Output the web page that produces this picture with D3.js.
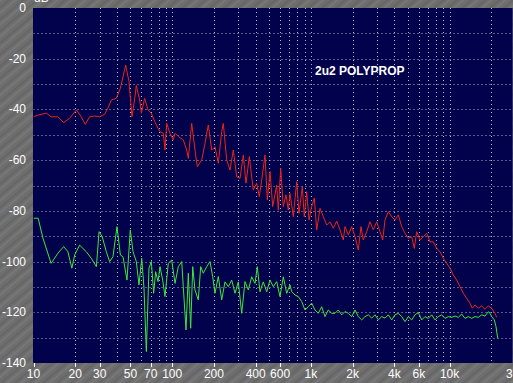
<!DOCTYPE html>
<html>
<head>
<meta charset="utf-8">
<script src="https://cdn.jsdelivr.net/npm/d3@7"></script>
<style>
  body { margin: 0; background: #6e6e6e; }
  svg { display: block; }
  text { font-family: "Liberation Sans", Arial, sans-serif; }
</style>
</head>
<body>
<svg width="513" height="383"></svg>
<script>
// frequency ticks shown under the plot
var tickFreqs = [10, 20, 30, 50, 70, 100, 200, 400, 600, 1000, 2000, 4000, 6000, 10000, 30000];
var tickLabels = ["10", "20", "30", "50", "70", "100", "200", "400", "600", "1k", "2k", "4k", "6k", "10k", "30k"];
var dbTicks = [0, -20, -40, -60, -80, -100, -120, -140];

// red trace (frequency Hz / level dB)
var redFreq = [10, 10.8, 12.4, 13.4, 15, 16.5, 18.2, 20.4, 22.1, 23.6, 25.4, 27.6, 30, 32.6, 34.4, 36.4, 39.5, 42.3, 46.2, 48.8,
  51.3, 53.7, 55.1, 58.3, 59.9, 63.3, 66.9, 70.7, 74.8, 79, 81.7, 86.3, 88.7, 91.3, 96.4, 101.8, 104.8, 110.7, 120.2, 127.2,
  130.7, 138.2, 146, 151.7, 163.2, 172.4, 182.1, 192.7, 203.5, 215, 227.5, 233.6, 247.1, 261.1, 275.8, 291.7, 308.2, 325.6, 340.5, 359.7,
  384.3, 406.6, 424.6, 441.9, 466.8, 485, 507.2, 530.4, 566.8, 582.1, 605.8, 632.4, 661.4, 687.2, 706.8, 746.7, 790, 820.8, 867, 896.3,
  932.7, 969, 1013, 1058, 1101, 1163, 1229, 1300, 1373, 1450, 1535, 1621, 1713, 1762, 1861, 1969, 2080, 2197, 2297, 2387,
  2526, 2668, 2818, 2981, 3149, 3293, 3421, 3614, 3824, 4040, 4268, 4515, 4770, 5039, 5331, 5567, 5792, 6118, 6463, 6838,
  7224, 7631, 8072, 8528, 9009, 9531, 10070, 10640, 11250, 11890, 12560, 13290, 14030, 14580, 15250, 16110, 17030, 17990, 19010, 20110,
  21250, 21860];
var redDb = [-42.9, -42.2, -41.5, -42.9, -42.9, -45.2, -43.5, -40.2, -42.9, -45.9, -42.9, -42.6, -42.9, -41.9, -39.5, -36.3, -35.6, -31.7, -22.5, -29,
  -42.9, -35.6, -30.6, -36.3, -41.5, -35.6, -40.2, -41.5, -44.8, -47.4, -48.8, -49.4, -56, -45.5, -49.4, -52, -49.4, -50.7, -52, -56,
  -59.3, -45.5, -56, -62.6, -59.9, -53.4, -46.1, -56, -54.7, -61.2, -48.8, -45.5, -59.9, -63.9, -56, -66.5, -67.2, -58, -69.1, -58.6,
  -71.8, -69.1, -74.4, -67.8, -58, -75.7, -64.5, -78.3, -69.8, -79.7, -63.2, -78.3, -73.7, -79.7, -73.1, -82.3, -68.5, -81, -70.5, -82.3,
  -72.4, -83.6, -78.3, -75, -87.5, -79, -82.3, -85.6, -84.3, -86.9, -84, -87.5, -91.5, -86.2, -89.5, -86.2, -90.2, -95.4, -86.2, -91.5,
  -88.2, -84.3, -87.5, -84.3, -88.2, -91.5, -83.6, -80.3, -82.3, -83.6, -81.6, -86.2, -88.8, -90.8, -90.2, -94.8, -88.2, -91.5, -90.2, -88.8,
  -92.2, -92.2, -94.8, -96.1, -98.7, -100.7, -102.6, -105.3, -107.3, -109.9, -112.5, -114.5, -116.4, -118.4, -117.1, -118.4, -117.5, -118.8, -117.5, -118.4,
  -120.4, -122];

// green trace (frequency Hz / level dB)
var greenFreq = [10, 10.8, 11.7, 13.4, 15, 16.5, 17.7, 18.9, 19.8, 21.5, 24, 26.1, 28.4, 29.7, 31.3, 33.5, 35.4, 37.4, 40, 42.3,
  44.2, 47.2, 49.9, 52.2, 55.1, 57.6, 60.3, 62.6, 65.1, 68, 70.7, 73.5, 76, 79, 81.7, 85.4, 88.7, 93.7, 99.2, 104.8,
  110.7, 117.1, 120.2, 125.8, 130.7, 135.9, 140.6, 146, 154.2, 160.5, 167.6, 177.3, 187.3, 195.9, 203.5, 215, 227.5, 240.3, 253.8, 268.5,
  283.8, 299.7, 317, 334.9, 353.8, 374.3, 395.4, 410.8, 429.5, 453.7, 480, 507.2, 535.7, 566.8, 598.8, 632.4, 669.1, 706.8, 727.1, 768.2,
  811.5, 858.4, 906.9, 958, 1013, 1071, 1131, 1196, 1264, 1335, 1413, 1492, 1576, 1668, 1762, 1861, 1969, 2080, 2197, 2324,
  2455, 2594, 2744, 2899, 3062, 3240, 3421, 3614, 3824, 4040, 4268, 4515, 4770, 5039, 5331, 5630, 5948, 6294, 6648, 7023,
  7430, 7849, 8292, 8772, 9267, 9787, 10350, 10940, 11550, 12220, 12910, 13640, 14430, 15250, 16110, 17030, 17990, 19010, 19560, 20110,
  21000, 21610, 22230];
var greenDb = [-82.9, -82.9, -90.8, -100.7, -96.7, -94.1, -96.1, -102.6, -97.4, -93.5, -96.1, -98.7, -102, -88.2, -90.2, -96.1, -100, -98.1, -86.2, -97.4,
  -98.1, -107.3, -87.5, -96.1, -100, -109.2, -98.7, -110.5, -135.5, -102.6, -100, -112.5, -104, -107.9, -102, -107.3, -113.8, -100.7, -99.4, -108.6,
  -102, -100, -109.9, -127, -104.6, -126.3, -102, -111.2, -115.1, -102, -104.6, -102, -100, -106, -112.5, -105.9, -115.1, -108, -109.9, -107.3,
  -112.5, -108, -120.4, -107.9, -111.2, -106, -108.6, -102, -111.9, -108, -111.9, -107.3, -109.9, -107.9, -113.8, -106, -112.5, -109.2, -111.9, -113.2,
  -113.8, -115.8, -119.1, -117.8, -116.4, -119.1, -120.4, -117.8, -121.7, -119.1, -120.4, -120.4, -119.1, -121, -119.7, -120.4, -121.7, -119.1, -121.7, -123,
  -121.7, -121, -122.3, -121, -123, -121.7, -122.3, -121, -123, -121, -120.4, -121.7, -123.7, -121.7, -123, -121, -120.1, -123, -121.7, -122.4,
  -121, -123, -121.7, -121, -122.4, -121.7, -122, -121.5, -122, -120.7, -122.4, -121.7, -122.4, -121.7, -122, -121, -121.5, -119.8, -120.4, -121.7,
  -123, -125.7, -130.3];

var svg = d3.select("svg");
var width = +svg.attr("width");
var height = +svg.attr("height");

// plot frame (pixels)
var plotLeft = 33.5, plotTop = 8, plotBottom = 363;

var x = d3.scaleLog().domain([10, 30000]).range([plotLeft, plotLeft + 138.7 * Math.log10(3000)]);
var y = d3.scaleLinear().domain([-140, 0]).range([plotBottom, plotTop]);

// grey textured background (soft diagonal streaks)
var defs = svg.append("defs");
var pat = defs.append("pattern")
  .attr("id", "stone")
  .attr("patternUnits", "userSpaceOnUse")
  .attr("width", 9).attr("height", 9)
  .attr("patternTransform", "rotate(-40)");
pat.append("rect").attr("width", 9).attr("height", 9).attr("fill", "#6e6e6e");
pat.append("rect").attr("width", 9).attr("height", 2).attr("fill", "#777777");
pat.append("rect").attr("y", 5).attr("width", 9).attr("height", 2).attr("fill", "#666666");

defs.append("clipPath").attr("id", "plotclip")
  .append("rect")
  .attr("x", plotLeft).attr("y", plotTop)
  .attr("width", width - plotLeft).attr("height", plotBottom - plotTop);

svg.append("rect").attr("width", width).attr("height", height).attr("fill", "url(#stone)");

// plot area
svg.append("rect")
  .attr("x", plotLeft - 0.5).attr("y", plotTop)
  .attr("width", width - plotLeft).attr("height", plotBottom - plotTop)
  .attr("fill", "#01014c");

var plot = svg.append("g").attr("clip-path", "url(#plotclip)");

// vertical grid lines, 1..9 in each decade
var gridF = [];
[10, 100, 1000, 10000].forEach(function(dec) {
  for (var k = 1; k < 10; k++) gridF.push(dec * k);
});
gridF = gridF.filter(function(f) { return f > 10; });

plot.selectAll(".vgrid")
  .data(gridF)
  .enter().append("line")
  .attr("class", "vgrid")
  .attr("x1", function(d) { return Math.round(x(d)) + 0.5; })
  .attr("x2", function(d) { return Math.round(x(d)) + 0.5; })
  .attr("y1", plotTop).attr("y2", plotBottom)
  .attr("stroke", "#b4b4c8")
  .attr("stroke-width", 1)
  .attr("stroke-dasharray", "1,3");

// horizontal grid lines every 10 dB
plot.selectAll(".hgrid")
  .data(d3.range(-130, 0, 10))
  .enter().append("line")
  .attr("class", "hgrid")
  .attr("x1", plotLeft).attr("x2", width)
  .attr("y1", function(d) { return Math.round(y(d)) + 0.5; })
  .attr("y2", function(d) { return Math.round(y(d)) + 0.5; })
  .attr("stroke", "#b4b4c8")
  .attr("stroke-width", 1)
  .attr("stroke-dasharray", "1,3");

// traces
var line = d3.line()
  .x(function(d) { return x(d[0]); })
  .y(function(d) { return y(d[1]); });

plot.append("path")
  .datum(greenFreq.map(function(f, i) { return [f, greenDb[i]]; }))
  .attr("d", line)
  .attr("fill", "none")
  .attr("stroke", "#3ee83a")
  .attr("stroke-width", 1);

plot.append("path")
  .datum(redFreq.map(function(f, i) { return [f, redDb[i]]; }))
  .attr("d", line)
  .attr("fill", "none")
  .attr("stroke", "#ee2418")
  .attr("stroke-width", 1);

// y axis labels
svg.selectAll(".ylab")
  .data(dbTicks)
  .enter().append("text")
  .attr("class", "ylab")
  .attr("x", 26)
  .attr("y", function(d) { return y(d) + 4; })
  .attr("text-anchor", "end")
  .attr("font-size", 12)
  .attr("fill", "#ffffff")
  .text(function(d) { return d; });

svg.append("text")
  .attr("x", 34).attr("y", 2)
  .attr("font-size", 12)
  .attr("fill", "#ffffff")
  .text("dB");

// x ticks + labels
svg.selectAll(".xtick")
  .data(tickFreqs)
  .enter().append("line")
  .attr("class", "xtick")
  .attr("x1", function(d) { return Math.round(x(d)) + 0.5; })
  .attr("x2", function(d) { return Math.round(x(d)) + 0.5; })
  .attr("y1", plotBottom).attr("y2", plotBottom + 4)
  .attr("stroke", "#ffffff");

svg.selectAll(".xlab")
  .data(tickFreqs)
  .enter().append("text")
  .attr("class", "xlab")
  .attr("x", function(d) { return x(d); })
  .attr("y", plotBottom + 15)
  .attr("text-anchor", "middle")
  .attr("font-size", 12)
  .attr("fill", "#ffffff")
  .text(function(d, i) { return tickLabels[i]; });

// title inside the plot
svg.append("text")
  .attr("x", 315).attr("y", 75)
  .attr("font-size", 12)
  .attr("font-weight", "bold")
  .attr("fill", "#ffffff")
  .text("2u2 POLYPROP");
</script>
</body>
</html>
